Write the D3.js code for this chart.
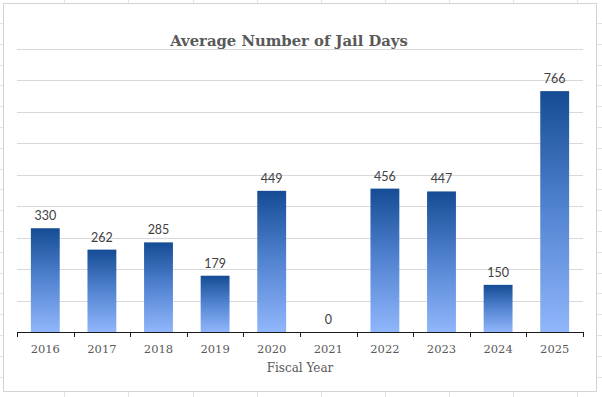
<!DOCTYPE html>
<html>
<head>
<meta charset="utf-8">
<script src="https://cdn.jsdelivr.net/npm/d3@7"></script>
<style>
  html, body { margin: 0; padding: 0; background: #ffffff; }
  svg { display: block; }
</style>
</head>
<body>
<svg id="chart" width="602" height="397"></svg>
<script>
// ---- data ----
const categories = ["2016", "2017", "2018", "2019", "2020", "2021", "2022", "2023", "2024", "2025"];
const values = [330, 262, 285, 179, 449, 0, 456, 447, 150, 766];
const yTicks = [0, 100, 200, 300, 400, 500, 600, 700, 800, 900];
const titleText = "Average Number of Jail Days";
const xAxisTitle = "Fiscal Year";

const W = 602, H = 397;
const svg = d3.select("#chart");

// ---- spreadsheet background grid ----
const sheetCols = d3.range(64.3, W, 64.1);
const sheetRows = d3.range(23, H, 20.8);
const bg = svg.append("g");
bg.selectAll("line.c").data(sheetCols).join("line")
  .attr("x1", d => Math.round(d) + 0.5).attr("x2", d => Math.round(d) + 0.5)
  .attr("y1", 0).attr("y2", H)
  .attr("stroke", "#e2e2e2").attr("stroke-width", 1);
bg.selectAll("line.r").data(sheetRows).join("line")
  .attr("y1", d => Math.round(d) + 0.5).attr("y2", d => Math.round(d) + 0.5)
  .attr("x1", 0).attr("x2", W)
  .attr("stroke", "#e2e2e2").attr("stroke-width", 1);

// ---- chart area ----
svg.append("rect")
  .attr("x", 3.5).attr("y", 3.5).attr("width", 593).attr("height", 388)
  .attr("fill", "#ffffff").attr("stroke", "#d4d4d4").attr("stroke-width", 1);

const plot = { left: 17, right: 583, top: 49, bottom: 332 };

const x = d3.scaleBand()
  .domain(categories)
  .range([plot.left, plot.right])
  .paddingInner(0.49)
  .paddingOuter(0.245);

const y = d3.scaleLinear()
  .domain([0, 900])
  .range([plot.bottom, plot.top]);

// gradient
const defs = svg.append("defs");
const grad = defs.append("linearGradient")
  .attr("id", "barGrad")
  .attr("x1", 0).attr("y1", 0).attr("x2", 0).attr("y2", 1);
grad.append("stop").attr("offset", "0%").attr("stop-color", "#154c94");
grad.append("stop").attr("offset", "50%").attr("stop-color", "#5384d2");
grad.append("stop").attr("offset", "100%").attr("stop-color", "#90b6fb");

// gridlines
svg.append("g")
  .selectAll("line")
  .data(yTicks.filter(d => d > 0))
  .join("line")
  .attr("x1", plot.left).attr("x2", plot.right)
  .attr("y1", d => Math.round(y(d)) + 0.5)
  .attr("y2", d => Math.round(y(d)) + 0.5)
  .attr("stroke", "#d9d9d9").attr("stroke-width", 1);

// bars
svg.append("g")
  .selectAll("rect")
  .data(categories.map((c, i) => ({ c, v: values[i] })))
  .join("rect")
  .attr("x", d => x(d.c))
  .attr("width", x.bandwidth())
  .attr("y", d => y(d.v))
  .attr("height", d => y(0) - y(d.v))
  .attr("fill", "url(#barGrad)");

// data labels
svg.append("g")
  .selectAll("text")
  .data(categories.map((c, i) => ({ c, v: values[i] })))
  .join("text")
  .attr("x", d => x(d.c) + x.bandwidth() / 2)
  .attr("y", d => y(d.v) - 8)
  .attr("text-anchor", "middle")
  .attr("font-family", "Lato, 'Open Sans', sans-serif")
  .attr("font-size", "12.5px")
  .attr("fill", "#404040")
  .text(d => d.v);

// x axis
const xAxis = d3.axisBottom(x).tickSize(0).tickPadding(0);
const axisG = svg.append("g")
  .attr("transform", `translate(0,${plot.bottom})`)
  .call(xAxis);
axisG.select(".domain").remove();
axisG.append("line")
  .attr("x1", plot.left).attr("x2", plot.right)
  .attr("y1", 0.5).attr("y2", 0.5)
  .attr("stroke", "#1a1a1a").attr("stroke-width", 1);
const boundaries = categories.map(c => x(c) - x.step() * x.paddingInner() / 2).concat([plot.right]);
axisG.selectAll("line.tk")
  .data(boundaries)
  .join("line")
  .attr("class", "tk")
  .attr("x1", d => Math.round(d) + 0.5).attr("x2", d => Math.round(d) + 0.5)
  .attr("y1", 0).attr("y2", 5)
  .attr("stroke", "#1a1a1a").attr("stroke-width", 1);
axisG.selectAll(".tick text")
  .attr("y", 21)
  .attr("dy", 0)
  .attr("font-family", "'DejaVu Serif', Georgia, serif")
  .attr("font-size", "11.5px")
  .attr("fill", "#595959");

// axis title
svg.append("text")
  .attr("x", (plot.left + plot.right) / 2)
  .attr("y", 372)
  .attr("text-anchor", "middle")
  .attr("font-family", "'DejaVu Serif', Georgia, serif")
  .attr("font-size", "12px")
  .attr("fill", "#595959")
  .text(xAxisTitle);

// title
svg.append("text")
  .attr("x", 289)
  .attr("y", 46)
  .attr("text-anchor", "middle")
  .attr("font-family", "'DejaVu Serif', Georgia, serif")
  .attr("font-weight", "bold")
  .attr("font-size", "14.8px")
  .attr("fill", "#595959")
  .text(titleText);
</script>
</body>
</html>
